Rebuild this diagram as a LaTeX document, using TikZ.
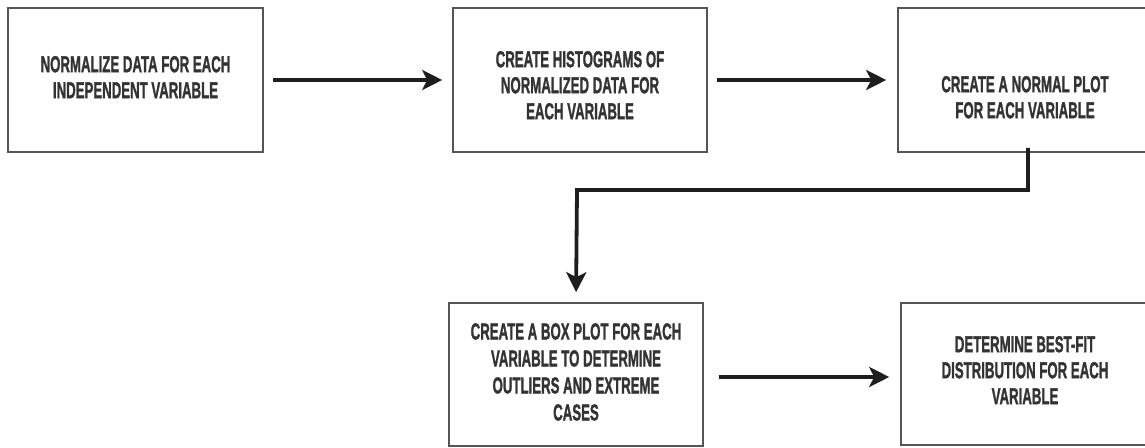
\documentclass[tikz,border=0pt]{standalone}
\usepackage{graphicx}
\usepackage{fontspec}
\setmainfont{Liberation Sans}[BoldFeatures={FakeBold=1.8}]
\usetikzlibrary{arrows.meta}
\definecolor{boxline}{HTML}{555555}
\definecolor{ink}{HTML}{333333}
\definecolor{flow}{HTML}{1E1E1E}
% condensed multi-line caption: bold sans squeezed horizontally
\newcommand\condlines[2][26]{%
  \fontsize{23}{#1}\selectfont\bfseries
  \scalebox{0.575}[1]{\begin{tabular}{@{}c@{}}#2\end{tabular}}}
\tikzset{
  stepbox/.style={draw=boxline, line width=1.6pt, minimum width=#1, minimum height=144, inner sep=0pt},
  stepbox/.default=255,
  steptext/.style={text=ink, inner sep=0pt},
  flowarrow/.style={draw=flow, line width=3.8pt, -{Stealth[length=20pt,width=20pt,inset=5pt]}},
}
\begin{document}
\begin{tikzpicture}[x=1pt,y=-1pt]
  \useasboundingbox (0,0) rectangle (1145,447);
  \clip (0,0) rectangle (1145,447);

  % boxes
  \node[stepbox] (b1) at (135.5,80) {};
  \node[stepbox=254] (b2) at (580,80) {};
  \node[stepbox=260] (b3) at (1028,80) {};
  \node[stepbox=254, minimum height=143] (b4) at (576,374.5) {};
  \node[stepbox=260, minimum height=142] (b5) at (1031,374) {};

  % labels
  \node[steptext] (t1) at (b1.center) {\condlines{NORMALIZE DATA FOR EACH\\INDEPENDENT VARIABLE}};
  \node[steptext] (t2) at ([yshift=-8]b2.center) {\condlines{CREATE HISTOGRAMS OF\\NORMALIZED DATA FOR\\EACH VARIABLE}};
  \node[steptext] (t3) at ([xshift=-3,yshift=-20]b3.center) {\condlines{CREATE A NORMAL PLOT\\FOR EACH VARIABLE}};
  \node[steptext] (t4) at (b4.center) {\condlines[27]{CREATE A BOX PLOT FOR EACH\\VARIABLE TO DETERMINE\\OUTLIERS AND EXTREME\\CASES}};
  \node[steptext] (t5) at ([xshift=-6,yshift=1]b5.center) {\condlines{DETERMINE BEST-FIT\\DISTRIBUTION FOR EACH\\VARIABLE}};

  % connectors
  \draw[flowarrow, shorten <=9pt, shorten >=10pt] (b1.east) -- (b2.west);
  \draw[flowarrow, shorten <=9pt, shorten >=11pt] (b2.east) -- (b3.west);
  \draw[flowarrow, shorten >=10pt] ([yshift=5]b3.south) |- (577,190) -- (b4.north);
  \draw[flowarrow, shorten <=15pt, shorten >=11pt] (b4.east |- 0,377) -- (b5.west |- 0,377);
\end{tikzpicture}
\end{document}
